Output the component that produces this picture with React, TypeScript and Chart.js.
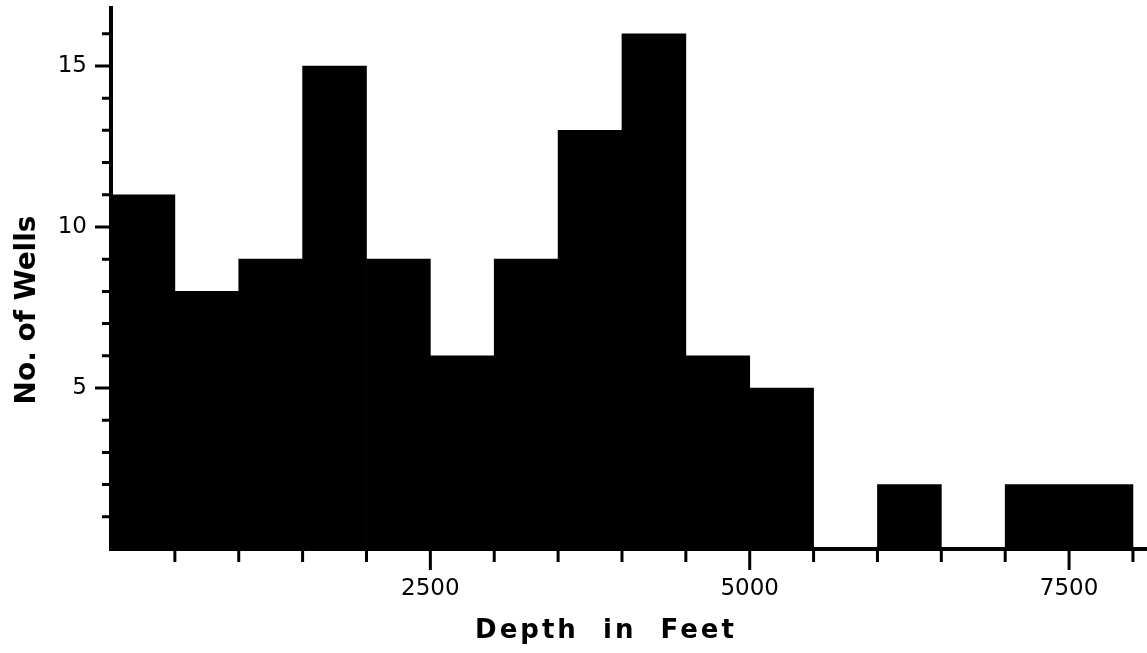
import { useEffect, useRef } from 'react';
import { Chart, registerables } from 'chart.js';

Chart.register(...registerables);

// Histogram of well depths (bins of 500 ft)
const binStarts = [0, 500, 1000, 1500, 2000, 2500, 3000, 3500, 4000, 4500, 5000, 5500, 6000, 6500, 7000, 7500];
const binWidth = 500;
const wellCounts = [11, 8, 9, 15, 9, 6, 9, 13, 16, 6, 5, 0, 2, 0, 2, 2];

const xTickLabels = [2500, 5000, 7500];
const yTickLabels = [5, 10, 15];
const xMinorTicks = [500, 1000, 1500, 2000, 2500, 3000, 3500, 4000, 4500, 5000, 5500, 6000, 6500, 7000, 7500, 8000];
const yMinorTicks = [1, 2, 3, 4, 5, 6, 7, 8, 9, 10, 11, 12, 13, 14, 15, 16];

const xTitle = 'Depth  in  Feet';
const yTitle = 'No. of Wells';

const decorPlugin = {
  id: 'decor',
  afterDraw(chart: any) {
    const ctx = chart.ctx as CanvasRenderingContext2D;
    const xs = chart.scales.x;
    const ys = chart.scales.y;
    const area = chart.chartArea;
    ctx.save();
    ctx.strokeStyle = '#000';
    ctx.lineWidth = 3;
    ctx.lineCap = 'butt';
    ctx.beginPath();
    for (const v of xMinorTicks) {
      const px = xs.getPixelForValue(v);
      const len = xTickLabels.includes(v) ? 21 : 13;
      ctx.moveTo(px, area.bottom);
      ctx.lineTo(px, area.bottom + len);
    }
    for (const v of yMinorTicks) {
      const py = ys.getPixelForValue(v);
      const len = yTickLabels.includes(v) ? 16 : 9;
      ctx.moveTo(area.left, py);
      ctx.lineTo(area.left - len, py);
    }
    ctx.stroke();

    ctx.fillStyle = '#000';
    ctx.textAlign = 'center';
    ctx.textBaseline = 'alphabetic';
    ctx.font = 'bold 26px "DejaVu Sans"';
    (ctx as any).letterSpacing = '3px';
    ctx.fillText(xTitle, 606, 638);

    ctx.translate(35, 310);
    ctx.rotate(-Math.PI / 2);
    ctx.font = 'bold 28px "DejaVu Sans"';
    (ctx as any).letterSpacing = '0px';
    ctx.fillText(yTitle, 0, 0);
    ctx.restore();
  },
};

export default function App() {
  const canvasRef = useRef<HTMLCanvasElement | null>(null);

  useEffect(() => {
    if (!canvasRef.current) return;
    const data = binStarts.map((s, i) => ({ x: s + binWidth / 2, y: wellCounts[i] }));
    const tickFont = { family: '"DejaVu Sans"', size: 23, weight: 'normal' as const };
    const chart = new Chart(canvasRef.current, {
      type: 'bar',
      data: {
        datasets: [
          {
            data: data as any,
            backgroundColor: '#000',
            borderWidth: 0,
            barPercentage: 1,
            categoryPercentage: 1,
          },
        ],
      },
      options: {
        animation: false,
        responsive: false,
        maintainAspectRatio: false,
        layout: { padding: { top: 8, right: 0, left: 0, bottom: 0 } },
        plugins: {
          legend: { display: false },
          tooltip: { enabled: false },
          title: { display: false },
        },
        scales: {
          x: {
            type: 'linear',
            min: 0,
            max: 8110,
            offset: false,
            grid: { display: false, offset: false },
            border: { display: true, color: '#000', width: 4 },
            ticks: {
              color: '#000',
              font: tickFont,
              padding: 18,
              maxRotation: 0,
              autoSkip: false,
              callback: (v: any) => String(v),
            },
            afterBuildTicks: (scale: any) => {
              scale.ticks = xTickLabels.map((v) => ({ value: v }));
            },
            afterFit: (scale: any) => {
              scale.height = 104;
              scale.paddingLeft = 0;
              scale.paddingRight = 0;
            },
          },
          y: {
            type: 'linear',
            min: 0,
            max: 16.8,
            grid: { display: false },
            border: { display: true, color: '#000', width: 4 },
            ticks: {
              color: '#000',
              font: tickFont,
              padding: 16,
              callback: (v: any) => String(v),
            },
            afterBuildTicks: (scale: any) => {
              scale.ticks = yTickLabels.map((v) => ({ value: v }));
            },
            afterFit: (scale: any) => {
              scale.width = 111;
              scale.paddingTop = 0;
              scale.paddingBottom = 0;
            },
          },
        },
      },
      plugins: [decorPlugin],
    });
    return () => chart.destroy();
  }, []);

  return (
    <div style={{ position: 'fixed', left: 0, top: 0, width: 1147, height: 653, background: '#fff' }}>
      <canvas ref={canvasRef} width={1147} height={653} style={{ width: 1147, height: 653 }} />
    </div>
  );
}
